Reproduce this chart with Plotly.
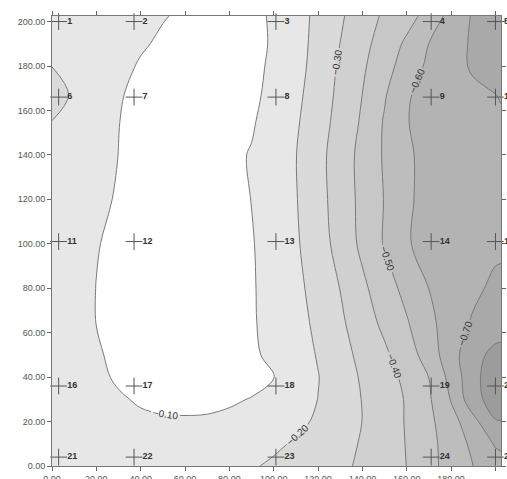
import plotly.graph_objects as go

# Grid coordinates of the gridded surface (metres)
grid_x = [0, 10, 20, 30, 40, 50, 60, 70, 80, 90, 100, 110, 120, 130, 140,
          150, 160, 170, 180, 190, 200, 202.5]
grid_y = [0, 10, 20, 30, 40, 50, 65, 80, 100, 120, 140, 155, 167, 180, 190, 202.5]

# Gridded values, one list per row of grid_y (bottom to top)
row_000 = [-0.150, -0.140, -0.130, -0.125, -0.120, -0.120, -0.120, -0.130, -0.150, -0.190, -0.216,
           -0.239, -0.261, -0.284, -0.313, -0.357, -0.401, -0.471, -0.538, -0.600, -0.656, -0.670]
row_010 = [-0.150, -0.140, -0.130, -0.120, -0.115, -0.112, -0.115, -0.120, -0.130, -0.150, -0.181,
           -0.212, -0.243, -0.274, -0.307, -0.355, -0.404, -0.472, -0.543, -0.622, -0.710, -0.715]
row_020 = [-0.150, -0.140, -0.125, -0.115, -0.108, -0.104, -0.103, -0.103, -0.105, -0.110, -0.140,
           -0.175, -0.215, -0.257, -0.301, -0.353, -0.407, -0.479, -0.558, -0.671, -0.795, -0.798]
row_030 = [-0.150, -0.135, -0.120, -0.105, -0.095, -0.092, -0.092, -0.094, -0.097, -0.101, -0.130,
           -0.165, -0.201, -0.251, -0.303, -0.354, -0.408, -0.488, -0.606, -0.765, -0.845, -0.850]
row_040 = [-0.150, -0.130, -0.110, -0.094, -0.085, -0.080, -0.080, -0.082, -0.086, -0.092, -0.099,
           -0.147, -0.197, -0.254, -0.311, -0.363, -0.423, -0.501, -0.633, -0.771, -0.860, -0.865]
row_050 = [-0.150, -0.130, -0.106, -0.088, -0.078, -0.073, -0.072, -0.074, -0.080, -0.090, -0.114,
           -0.159, -0.206, -0.266, -0.325, -0.383, -0.454, -0.544, -0.662, -0.765, -0.830, -0.835]
row_065 = [-0.155, -0.130, -0.099, -0.085, -0.075, -0.070, -0.070, -0.073, -0.080, -0.092, -0.126,
           -0.170, -0.219, -0.284, -0.354, -0.424, -0.493, -0.575, -0.652, -0.710, -0.740, -0.745]
row_080 = [-0.155, -0.130, -0.099, -0.085, -0.075, -0.070, -0.070, -0.073, -0.080, -0.092, -0.132,
           -0.177, -0.234, -0.302, -0.380, -0.456, -0.530, -0.601, -0.640, -0.680, -0.720, -0.725]
row_100 = [-0.160, -0.135, -0.103, -0.087, -0.077, -0.072, -0.072, -0.075, -0.082, -0.094, -0.139,
           -0.188, -0.256, -0.335, -0.422, -0.508, -0.592, -0.630, -0.650, -0.665, -0.680, -0.680]
row_120 = [-0.165, -0.140, -0.115, -0.094, -0.080, -0.073, -0.072, -0.075, -0.083, -0.101, -0.148,
           -0.195, -0.266, -0.345, -0.426, -0.504, -0.588, -0.625, -0.640, -0.655, -0.670, -0.670]
row_140 = [-0.170, -0.150, -0.125, -0.0995, -0.085, -0.076, -0.074, -0.077, -0.086, -0.104, -0.151,
           -0.198, -0.270, -0.348, -0.429, -0.511, -0.585, -0.630, -0.650, -0.665, -0.680, -0.680]
row_155 = [-0.199, -0.165, -0.135, -0.101, -0.085, -0.077, -0.074, -0.076, -0.083, -0.093, -0.129,
           -0.188, -0.258, -0.333, -0.413, -0.509, -0.596, -0.635, -0.655, -0.670, -0.690, -0.690]
row_167 = [-0.230, -0.190, -0.145, -0.104, -0.088, -0.080, -0.076, -0.077, -0.082, -0.090, -0.113,
           -0.177, -0.248, -0.323, -0.401, -0.491, -0.590, -0.635, -0.660, -0.680, -0.699, -0.705]
row_180 = [-0.199, -0.170, -0.140, -0.115, -0.095, -0.085, -0.080, -0.080, -0.084, -0.091, -0.106,
           -0.167, -0.236, -0.314, -0.386, -0.462, -0.545, -0.619, -0.665, -0.712, -0.730, -0.735]
row_190 = [-0.180, -0.165, -0.145, -0.125, -0.106, -0.092, -0.085, -0.083, -0.085, -0.092, -0.103,
           -0.164, -0.229, -0.301, -0.371, -0.443, -0.517, -0.601, -0.659, -0.714, -0.740, -0.745]
row_202 = [-0.170, -0.160, -0.145, -0.130, -0.115, -0.103, -0.092, -0.088, -0.089, -0.094, -0.103,
           -0.162, -0.223, -0.287, -0.353, -0.415, -0.465, -0.533, -0.636, -0.710, -0.740, -0.745]

grid_z = [row_000, row_010, row_020, row_030, row_040, row_050, row_065, row_080,
          row_100, row_120, row_140, row_155, row_167, row_180, row_190, row_202]

# Sample stations
station_x = [3, 37, 101, 171, 200] * 5
station_y = [200] * 5 + [166] * 5 + [101] * 5 + [36] * 5 + [4] * 5
station_id = [str(i) for i in range(1, 26)]

# Contour levels and grey fill for each band (darkest = lowest values)
level_start, level_end, level_step = -0.8, -0.1, 0.1
band_greys = ["#9c9c9c", "#a9a9a9", "#b3b3b3", "#bdbdbd", "#c7c7c7",
              "#d0d0d0", "#dadada", "#e7e7e7", "#ffffff"]
n_bands = len(band_greys)
greyscale = []
for i, c in enumerate(band_greys):
    lo = max(0.0, (i - 0.5) / (n_bands - 1))
    hi = min(1.0, (i + 0.5) / (n_bands - 1))
    greyscale.append([lo, c])
    greyscale.append([hi, c])

fig = go.Figure()

fig.add_trace(go.Contour(
    x=grid_x, y=grid_y, z=grid_z,
    colorscale=greyscale,
    showscale=False,
    contours=dict(
        start=level_start, end=level_end, size=level_step,
        coloring="fill",
        showlabels=True,
        labelformat=".2f",
        labelfont=dict(family="Liberation Sans", size=10, color="#333333"),
    ),
    line=dict(color="#7a7a7a", width=1, smoothing=1),
    hoverinfo="skip",
))

fig.add_trace(go.Scatter(
    x=station_x, y=station_y,
    mode="markers+text",
    text=station_id,
    textposition="middle right",
    textfont=dict(family="Liberation Sans", size=9, color="#333333", weight="bold"),
    marker=dict(symbol="cross-thin", size=12, line=dict(color="#555555", width=1)),
    cliponaxis=False,
    hoverinfo="skip",
    showlegend=False,
))

axis_common = dict(
    range=[0, 202.5],
    tick0=0, dtick=20,
    tickformat=".2f",
    ticks="outside", ticklen=4, tickcolor="#666666",
    showline=True, linecolor="#777777", linewidth=1, mirror="ticks",
    showgrid=False, zeroline=False,
    automargin=False,
    tickfont=dict(family="Liberation Sans", size=9, color="#555555"),
)

fig.update_layout(
    width=507, height=479,
    margin=dict(l=52, r=6, t=16, b=13, autoexpand=False),
    paper_bgcolor="white",
    plot_bgcolor="white",
    showlegend=False,
    xaxis=dict(axis_common),
    yaxis=dict(axis_common),
)

fig.write_html("out.html")
